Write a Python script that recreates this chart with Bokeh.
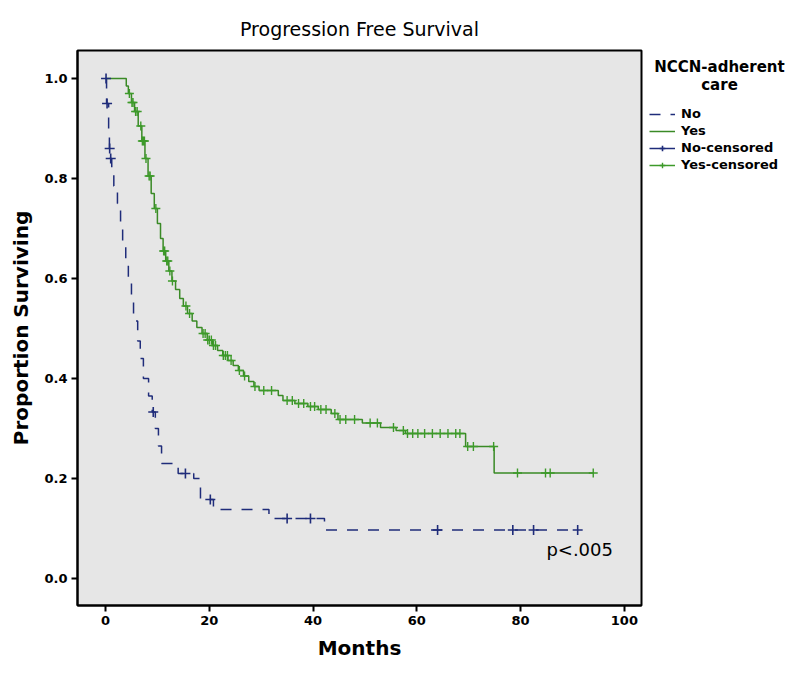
from bokeh.plotting import figure
from bokeh.models import Range1d, Legend, LegendItem, Label, FixedTicker, CustomJSTickFormatter
from bokeh.embed import file_html
from bokeh.resources import INLINE

# ---- data ----
no_times = [0, 0.2, 0.6, 0.75, 0.9, 1.2, 1.6, 2.3, 2.9, 3.3, 3.9, 4.4, 5.0, 5.4, 6.2, 6.7,
            7.3, 8.3, 9.0, 9.6, 10.2, 10.8, 14.0, 17.0, 18.3, 20.8, 31.5, 42.2]
no_surv = [1.0, 0.95, 0.90, 0.86, 0.84, 0.82, 0.785, 0.75, 0.71, 0.67, 0.63, 0.595, 0.555,
           0.515, 0.475, 0.44, 0.40, 0.365, 0.333, 0.30, 0.265, 0.23, 0.21, 0.20, 0.158,
           0.138, 0.12, 0.097]
no_end = 91.0
no_censored = [0.1, 0.3, 0.8, 1.0, 9.2, 15.4, 20.2, 35.0, 39.5, 64.0, 78.5, 82.5, 91.0]

yes_times = [0, 4.0, 4.4, 5.0, 5.6, 6.3, 7.0, 7.6, 8.2, 8.8, 9.4, 10.0, 10.6, 11.1, 11.6,
             12.2, 12.8, 13.5, 14.3, 15.0, 15.8, 16.7, 17.6, 18.6, 19.6, 20.6, 21.6, 22.6,
             23.6, 24.6, 25.6, 26.6, 27.6, 28.6, 29.6, 33.3, 34.2, 36.5, 39.0, 41.0, 43.5,
             44.8, 49.5, 53.0, 56.0, 57.8, 69.4, 74.9]
yes_surv = [1.0, 0.985, 0.97, 0.952, 0.934, 0.905, 0.875, 0.84, 0.805, 0.77, 0.74, 0.71,
            0.68, 0.655, 0.635, 0.615, 0.595, 0.578, 0.56, 0.545, 0.53, 0.515, 0.502, 0.49,
            0.477, 0.466, 0.456, 0.446, 0.436, 0.426, 0.416, 0.405, 0.394, 0.384, 0.376,
            0.366, 0.356, 0.350, 0.344, 0.338, 0.330, 0.318, 0.311, 0.302, 0.296, 0.290,
            0.264, 0.211]
yes_end = 94.0
yes_censored = [4.6, 5.1, 5.3, 5.8, 6.1, 6.8, 7.1, 7.3, 7.5, 7.8, 8.4, 8.6, 9.7, 11.2, 11.4,
                11.8, 12.0, 12.4, 12.9, 15.5, 16.2, 18.8, 19.2, 19.7, 20.0, 20.4, 20.8, 21.2,
                22.7, 23.1, 23.5, 24.2, 25.8, 26.8, 28.8, 30.5, 32.0, 35.0, 36.0, 37.2, 38.2,
                39.5, 40.3, 41.5, 42.5, 44.2, 45.2, 46.3, 48.0, 51.0, 52.4, 55.5, 57.4, 58.2,
                59.2, 60.2, 61.5, 63.0, 64.5, 66.0, 67.5, 68.3, 69.8, 70.9, 74.8, 79.4, 84.8,
                85.7, 94.0]

x_ticks = [0, 20, 40, 60, 80, 100]
y_ticks = [0.0, 0.2, 0.4, 0.6, 0.8, 1.0]

FONT = "DejaVu Sans"
BLUE = "#1f2c7a"
GREEN_LINE = "#3a8a26"
GREEN_MARK = "#3d9a2a"
NAN = float("nan")


def step_at(times, surv, t):
    val = surv[0]
    for ti, si in zip(times, surv):
        if ti <= t:
            val = si
    return val


p = figure(frame_width=564, frame_height=555, output_backend="svg", toolbar_location=None,
           x_range=Range1d(-5.4, 103.3), y_range=Range1d(-0.054, 1.056),
           min_border_left=77, min_border_top=50, min_border_bottom=62, min_border_right=2)

p.background_fill_color = "#e6e6e6"
p.border_fill_color = "white"
p.outline_line_color = "black"
p.outline_line_width = 2
p.xgrid.visible = False
p.ygrid.visible = False

p.title.text = "Progression Free Survival"
p.title.align = "center"
p.title.text_font = FONT
p.title.text_font_size = "19px"
p.title.text_font_style = "normal"
p.title.text_color = "black"
p.title.standoff = 21

for ax, ticks in ((p.xaxis[0], x_ticks), (p.yaxis[0], y_ticks)):
    ax.ticker = FixedTicker(ticks=ticks)
    ax.minor_tick_line_color = None
    ax.major_tick_in = 0
    ax.major_tick_out = 6
    ax.major_tick_line_width = 2
    ax.major_tick_line_color = "black"
    ax.axis_line_width = 2
    ax.axis_line_color = "black"
    ax.major_label_text_font = FONT
    ax.major_label_text_font_size = "13px"
    ax.major_label_text_font_style = "bold"
    ax.major_label_text_color = "black"
    ax.major_label_standoff = 4
    ax.axis_label_text_font = FONT
    ax.axis_label_text_font_size = "20px"
    ax.axis_label_text_font_style = "bold"
    ax.axis_label_text_color = "black"
    ax.axis_label_standoff = 8

p.yaxis[0].formatter = CustomJSTickFormatter(code="return tick.toFixed(1);")
p.xaxis.axis_label = "Months"
p.yaxis.axis_label = "Proportion Surviving"

# curves
no_line = p.step(no_times + [no_end], no_surv + [no_surv[-1]], mode="after",
                 line_color=BLUE, line_width=1.5, line_dash="11 10")
yes_line = p.step(yes_times + [yes_end], yes_surv + [yes_surv[-1]], mode="after",
                  line_color=GREEN_LINE, line_width=1.5)

no_cy = [step_at(no_times, no_surv, t) for t in no_censored]
yes_cy = [step_at(yes_times, yes_surv, t) for t in yes_censored]
no_c = p.scatter(no_censored, no_cy, marker="cross", size=10, line_color=BLUE, line_width=1.6)
yes_c = p.scatter(yes_censored, yes_cy, marker="cross", size=9, line_color=GREEN_MARK,
                  line_width=1.4)

# legend-only solid lines (no visible data)
no_leg_line = p.line([NAN, NAN], [NAN, NAN], line_color=BLUE, line_width=1.5)
yes_leg_line = p.line([NAN, NAN], [NAN, NAN], line_color=GREEN_MARK, line_width=1.5)

p.add_layout(Label(x=97.8, y=0.058, text="p<.005", text_align="right", text_baseline="middle",
                   text_font=FONT, text_font_size="18px", text_color="black"))

NB = "\u00a0"
legend = Legend(items=[
    LegendItem(label="No", renderers=[no_line]),
    LegendItem(label="Yes", renderers=[yes_line]),
    LegendItem(label="No-censored", renderers=[no_leg_line, no_c]),
    LegendItem(label="Yes-censored", renderers=[yes_leg_line, yes_c]),
], location="top_left")
legend.title = NB + "NCCN-adherent\n" + NB * 10 + "care"
legend.title_text_font = FONT
legend.title_text_font_size = "15px"
legend.title_text_font_style = "bold"
legend.title_text_color = "black"
legend.label_text_font = FONT
legend.label_text_font_size = "13px"
legend.label_text_font_style = "bold"
legend.label_text_color = "black"
legend.border_line_alpha = 0
legend.background_fill_alpha = 0
legend.glyph_width = 26
legend.glyph_height = 14
legend.label_height = 14
legend.spacing = 2
legend.label_standoff = 6
legend.padding = 5
legend.margin = 3
legend.title_standoff = 12
p.add_layout(legend, "right")

open("out.html", "w").write(file_html(p, INLINE))
